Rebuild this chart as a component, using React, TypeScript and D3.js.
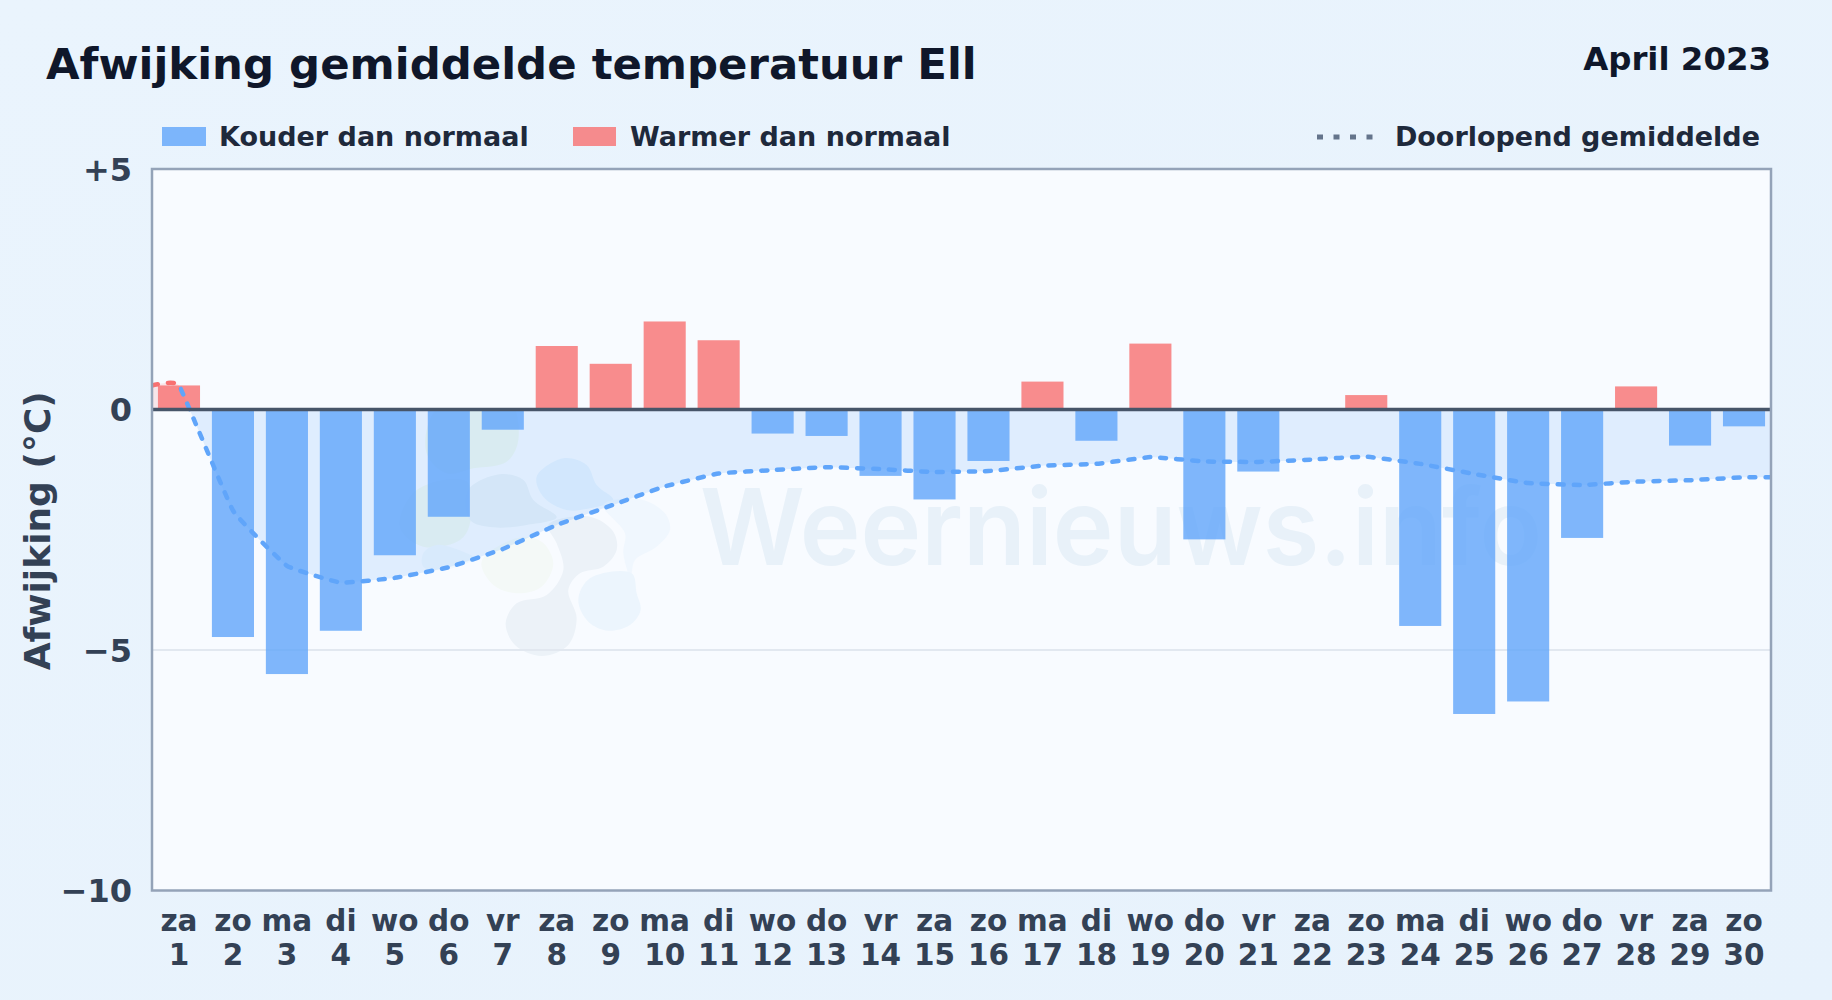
import React from 'react';
import * as d3 from 'd3';

const weekdays = ['za', 'zo', 'ma', 'di', 'wo', 'do', 'vr', 'za', 'zo', 'ma', 'di', 'wo', 'do', 'vr', 'za', 'zo', 'ma', 'di', 'wo', 'do', 'vr', 'za', 'zo', 'ma', 'di', 'wo', 'do', 'vr', 'za', 'zo'];
const days = d3.range(1, 31);
const deviation = [0.5, -4.73, -5.5, -4.6, -3.03, -2.23, -0.42, 1.32, 0.95, 1.83, 1.44, -0.5, -0.55, -1.38, -1.87, -1.07, 0.58, -0.65, 1.37, -2.7, -1.29, 0, 0.3, -4.5, -6.33, -6.07, -2.67, 0.48, -0.75, -0.35];
const runningMean = [0.5, -2.1, -3.25, -3.6, -3.5, -3.28, -2.9, -2.4, -2.0, -1.6, -1.33, -1.26, -1.2, -1.24, -1.3, -1.28, -1.17, -1.13, -0.99, -1.08, -1.09, -1.04, -0.98, -1.13, -1.34, -1.53, -1.57, -1.5, -1.47, -1.41];
const yTicks = [5, 0, -5, -10];

const WIDTH = 1832;
const HEIGHT = 1000;
const FONT = '"DejaVu Sans", sans-serif';
const plot = { left: 152, right: 1771, top: 169, bottom: 890.5 };

const x = d3
  .scaleBand<number>()
  .domain(days)
  .range([plot.left, plot.right])
  .paddingInner(0.22)
  .paddingOuter(0.11);
const xCenter = (d: number) => (x(d) as number) + x.bandwidth() / 2;
const y = d3.scaleLinear().domain([5, -10]).range([plot.top, plot.bottom]);

// the mean runs on to both plot edges, flat from the first and last day
type MeanPoint = { px: number; v: number };
const meanPoints: MeanPoint[] = [
  { px: plot.left, v: runningMean[0] },
  ...days.map((d, i) => ({ px: xCenter(d), v: runningMean[i] })),
  { px: plot.right, v: runningMean[runningMean.length - 1] },
];

const meanCurve = d3.curveCardinal.tension(0.72);
const line = d3
  .line<MeanPoint>()
  .x((p) => p.px)
  .y((p) => y(p.v))
  .curve(meanCurve);
const area = d3
  .area<MeanPoint>()
  .x((p) => p.px)
  .y0(y(0))
  .y1((p) => y(p.v))
  .curve(meanCurve);

const tickLabel = (v: number) => (v > 0 ? `+${v}` : v < 0 ? `\u2212${Math.abs(v)}` : '0');

// watermark logo, traced in the 3x crop space
const blob = d3
  .line<[number, number]>()
  .curve(d3.curveCatmullRomClosed.alpha(0.5));
const logoBlobs: { pts: [number, number][]; fill: string }[] = [
  { fill: '#f1f8f0', pts: [[340, -60], [450, -30], [475, 90], [440, 155], [340, 175], [260, 190], [200, 130], [220, 10]] },
  { fill: '#f1f8f1', pts: [[170, 240], [320, 215], [330, 340], [300, 390], [190, 410], [120, 350]] },
  { fill: '#ebf2f8', pts: [[420, 193], [490, 210], [520, 270], [590, 322], [500, 345], [400, 352], [330, 330], [325, 240]] },
  { fill: '#f0f7fd', pts: [[230, 405], [320, 430], [345, 445], [250, 480], [190, 470], [190, 430]] },
  { fill: '#e9f4fe', pts: [[610, 145], [680, 165], [710, 225], [760, 270], [690, 295], [620, 300], [550, 260], [530, 200]] },
  { fill: '#f4f9f7', pts: [[365, 455], [470, 385], [545, 395], [580, 460], [545, 530], [470, 550], [400, 525]] },
  { fill: '#ecf2f8', pts: [[565, 345], [690, 320], [760, 365], [770, 420], [730, 470], [660, 490], [625, 540], [650, 625], [625, 705], [545, 738], [465, 705], [437, 640], [470, 580], [560, 555], [610, 480], [590, 400]] },
  { fill: '#f0f7fe', pts: [[730, 285], [840, 268], [915, 310], [930, 360], [890, 410], [825, 450], [812, 500], [790, 430], [795, 370]] },
  { fill: '#ecf5fd', pts: [[690, 505], [815, 490], [830, 550], [842, 600], [810, 645], [745, 662], [685, 635], [655, 570]] },
];

export default function App() {
  return (
    <svg
      width={WIDTH}
      height={HEIGHT}
      viewBox={`0 0 ${WIDTH} ${HEIGHT}`}
      style={{ position: 'absolute', left: 0, top: 0, display: 'block' }}
      fontFamily={FONT}
      fontWeight="bold"
    >
      <defs>
        <linearGradient id="pageBg" x1="0" y1="0" x2="1" y2="1">
          <stop offset="0" stopColor="#eaf4fd" />
          <stop offset="1" stopColor="#e7f2fc" />
        </linearGradient>
        <clipPath id="posClip">
          <rect x={plot.left} y={plot.top} width={plot.right - plot.left} height={y(0) - plot.top} />
        </clipPath>
        <clipPath id="negClip">
          <rect x={plot.left} y={y(0)} width={plot.right - plot.left} height={plot.bottom - y(0)} />
        </clipPath>
        <clipPath id="firstStretch">
          <rect x={plot.left} y={plot.top} width={xCenter(1) - plot.left} height={plot.bottom - plot.top} />
        </clipPath>
        <clipPath id="restStretch">
          <rect x={xCenter(1)} y={plot.top} width={plot.right - xCenter(1)} height={plot.bottom - plot.top} />
        </clipPath>
      </defs>

      <rect width={WIDTH} height={HEIGHT} fill="url(#pageBg)" />

      <text x={46} y={79} fontSize={43.4} fill="#0f172a">
        Afwijking gemiddelde temperatuur Ell
      </text>
      <text x={1771} y={70} fontSize={32.4} fill="#0f172a" textAnchor="end">
        April 2023
      </text>

      {/* legend */}
      <rect x={162} y={127} width={44} height={19} fill="#60a5fa" opacity={0.8} />
      <text x={219} y={146} fontSize={27} fill="#1e293b">
        Kouder dan normaal
      </text>
      <rect x={573} y={127} width={43} height={19} fill="#f87171" opacity={0.8} />
      <text x={630} y={146} fontSize={27} fill="#1e293b">
        Warmer dan normaal
      </text>
      <line x1={1317} x2={1373} y1={137} y2={137} stroke="#64748b" strokeWidth={5} strokeDasharray="6 10.5" />
      <text x={1760} y={146} fontSize={27} fill="#1e293b" textAnchor="end">
        Doorlopend gemiddelde
      </text>

      {/* plot */}
      <rect x={plot.left} y={plot.top} width={plot.right - plot.left} height={plot.bottom - plot.top} fill="#f8fbff" />

      <g clipPath="url(#negClip)">
        <g transform="translate(360,410) scale(0.3333)">
          {logoBlobs.map((b, i) => (
            <path key={i} d={blob(b.pts) as string} fill={b.fill} />
          ))}
        </g>
      </g>
      <text x={700} y={565} fontFamily="Inter, sans-serif" fontWeight={600} fontSize={106} fill="#e8f1f9" textLength={842} lengthAdjust="spacingAndGlyphs">
        Weernieuws.info
      </text>

      <path d={area(meanPoints) as string} fill="#f87171" opacity={0.15} clipPath="url(#posClip)" />
      <path d={area(meanPoints) as string} fill="#60a5fa" opacity={0.16} clipPath="url(#negClip)" />

      {yTicks
        .filter((t) => t === -5)
        .map((t) => (
          <line key={t} x1={plot.left} x2={plot.right} y1={y(t)} y2={y(t)} stroke="#e2e8f0" strokeWidth={2} />
        ))}

      {days.map((d, i) => {
        const v = deviation[i];
        return (
          <rect
            key={d}
            x={x(d)}
            y={Math.min(y(v), y(0))}
            width={x.bandwidth()}
            height={Math.abs(y(v) - y(0))}
            fill={v >= 0 ? '#f87171' : '#60a5fa'}
            opacity={0.8}
          />
        );
      })}

      {/* first stretch of the mean is above normal, the rest below */}
      <g clipPath="url(#firstStretch)">
        <path
          d={line(meanPoints) as string}
          fill="none"
          stroke="#f87171"
          strokeWidth={4.5}
          strokeLinecap="round"
          strokeDasharray="6 10"
        />
      </g>
      <g clipPath="url(#restStretch)">
        <path
          d={line(meanPoints) as string}
          fill="none"
          stroke="#60a5fa"
          strokeWidth={4.5}
          strokeLinecap="round"
          strokeDasharray="6 10"
        />
      </g>

      <line x1={plot.left} x2={plot.right} y1={y(0)} y2={y(0)} stroke="#475569" strokeWidth={3.5} />
      <rect
        x={plot.left}
        y={plot.top}
        width={plot.right - plot.left}
        height={plot.bottom - plot.top}
        fill="none"
        stroke="#94a3b8"
        strokeWidth={2.5}
      />

      {/* axes */}
      {yTicks.map((t) => (
        <text key={t} x={132} y={y(t)} dy="0.36em" fontSize={32} fill="#334155" textAnchor="end">
          {tickLabel(t)}
        </text>
      ))}
      <text
        transform={`translate(50,${(y(0) + y(-5)) / 2 + 1}) rotate(-90)`}
        fontSize={36}
        fill="#334155"
        textAnchor="middle"
      >
        Afwijking (°C)
      </text>
      {days.map((d, i) => (
        <g key={d} fontSize={29.5} fill="#334155" textAnchor="middle">
          <text x={xCenter(d)} y={931}>
            {weekdays[i]}
          </text>
          <text x={xCenter(d)} y={965}>
            {d}
          </text>
        </g>
      ))}
    </svg>
  );
}
